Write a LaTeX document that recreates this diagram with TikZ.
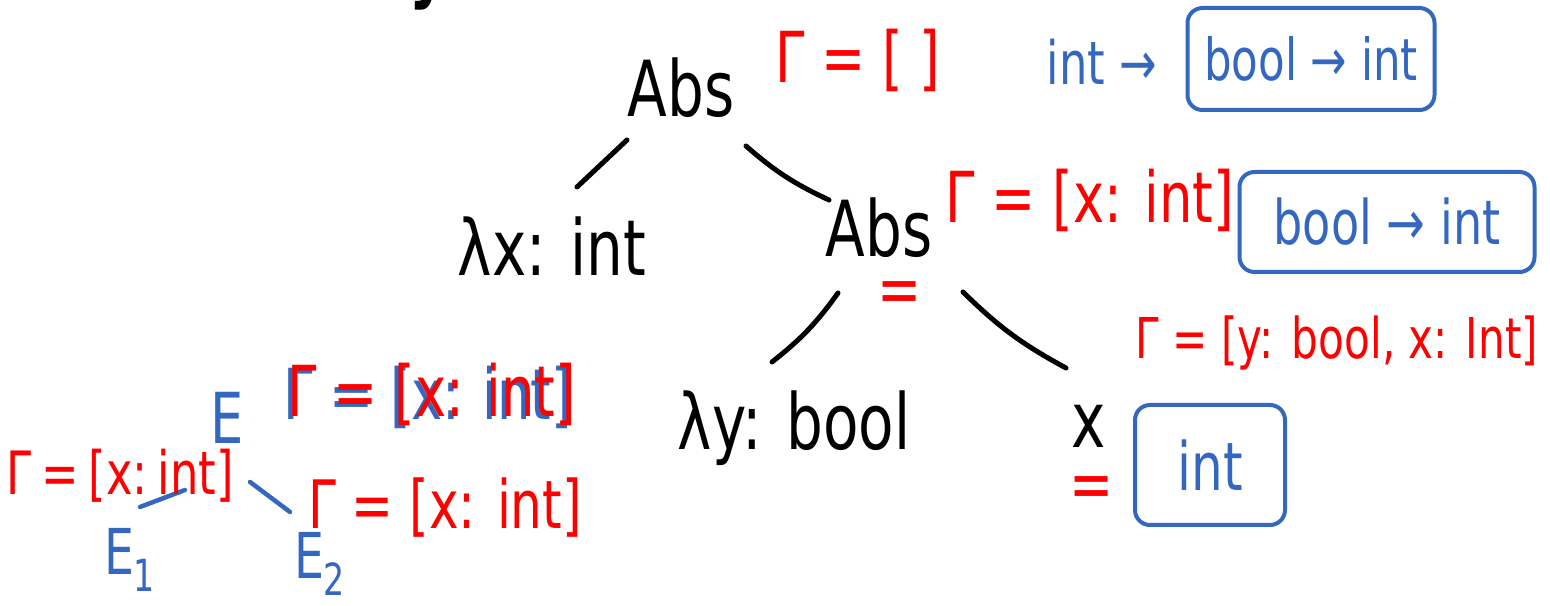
\documentclass[tikz,border=0pt]{standalone}
\usepackage{fontspec}
\usepackage{xcolor}
\usepackage{tikz}
\usetikzlibrary{positioning}
\newfontfamily\hand[FakeStretch=0.75]{DejaVu Sans}
\definecolor{inkred}{RGB}{255,0,0}
\definecolor{inkblue}{RGB}{52,104,192}

\begin{document}
\begin{tikzpicture}[
  x=0.2mm, y=-0.2mm,
  txt/.style={font=\hand\fontsize{#1}{#1}\selectfont, inner sep=0pt},
  term/.style={txt=44pt, text=black},
  ctx/.style={txt=#1, text=inkred},
  ty/.style={txt=#1, text=inkblue},
  tybox/.style={txt=#1, text=inkblue, draw=inkblue, line width=0.8mm, rounded corners=3mm},
  edge/.style={draw, line width=1mm, line cap=round},
  bedge/.style={draw=inkblue, line width=0.9mm, line cap=round},
]
\def\px{0.2mm}      % one pixel of the sheet
\def\bend{8}        % sag of the hand-drawn strokes

\useasboundingbox (0,0) rectangle (1550,606);
\clip (0,0) rectangle (1550,606);

\node[font=\hand\bfseries\fontsize{44pt}{44pt}\selectfont, anchor=base, inner sep=0pt] (ttl) at (428,-6) {y};

\node[term] (root) at (681,88) {Abs};
\node[term] (lx) at (552,246) {λx: int};
\node[term] (abs2) at (879,228) {Abs};
\node[term] (ly) at (794,428) {λy: bool};
\node[term] (xv) at (1089,426) {x};

\draw[edge] ([shift={(-54,52)}]root.center) -- ([shift={(25,-59)}]lx.center);
\draw[edge] ([shift={(65,58)}]root.center) to[bend right=\bend] ([shift={(-50,-28)}]abs2.center);
\draw[edge] ([shift={(-41,65)}]abs2.center) to[bend left=\bend] ([shift={(-22,-66)}]ly.center);
\draw[edge] ([shift={(84,64)}]abs2.center) to[bend right=\bend] ([shift={(-23,-58)}]xv.center);

\node[ctx=40pt] (g0) at (858,60) {Γ = [ ]};
\node[ctx=40pt] (g1) at (1090,200) {Γ = [x: int]};
\node[ctx=40pt] (eq1) at (900,298) {=};
\node[ctx=32pt] (g2) at (1337,343) {Γ = [y: bool, x: Int]};
\node[ctx=40pt] (eq2) at (1092,493) {=};

\node[ty=34pt] (t0) at (1102,62) {int →};
\node[tybox=33pt, minimum width=247*\px, minimum height=102*\px] (b0) at (1311,59) {bool → int};
\node[tybox=35pt, minimum width=295*\px, minimum height=100*\px] (b1) at (1387,222) {bool → int};
\node[tybox=38pt, minimum width=150*\px, minimum height=120*\px] (b2) at (1210,465) {int};

% small tree at the bottom left
\node[ty=40pt] (e) at (227,418) {E};
\node[ty=36pt] (e1) at (130,560) {E\textsubscript{1}};
\node[ty=36pt] (e2) at (320,564) {E\textsubscript{2}};
\draw[bedge] ([shift={(-42,72)}]e.center) -- ([shift={(10,-53)}]e1.center);
\draw[bedge] ([shift={(23,64)}]e.center) -- ([shift={(-30,-52)}]e2.center);
\node[ty=40pt] (ge_old) at (428,397) {Γ = [x: int]};
\node[ctx=40pt] (ge) at (432,394) {Γ = [x: int]};
\node[ctx=34pt] (ge1) at (120,476) {Γ\,=\,[x:\,int]};
\node[ctx=38pt] (ge2) at (445,508) {Γ = [x: int]};
\end{tikzpicture}
\end{document}
